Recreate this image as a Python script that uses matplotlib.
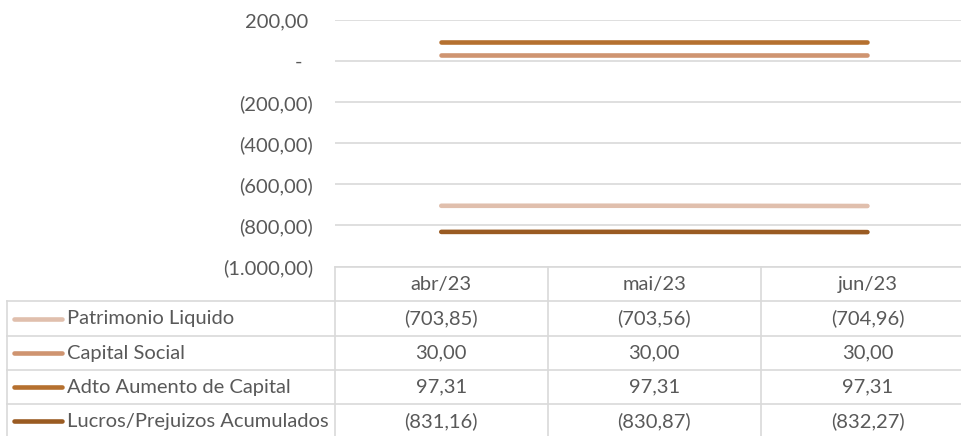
import matplotlib
matplotlib.use("Agg")
import matplotlib.pyplot as plt
from matplotlib.transforms import blended_transform_factory

# dados
meses = ["abr/23", "mai/23", "jun/23"]
series = ["Patrimonio Liquido", "Capital Social",
          "Adto Aumento de Capital", "Lucros/Prejuizos Acumulados"]
patrimonio_liquido = [-703.85, -703.56, -704.96]
capital_social = [30.00, 30.00, 30.00]
adto_aumento = [97.31, 97.31, 97.31]
lucros_prejuizos = [-831.16, -830.87, -832.27]
cores = ["#E0BFAD", "#CF9470", "#B5702F", "#9A5B22"]
yticks = [200, 0, -200, -400, -600, -800, -1000]

valores = [patrimonio_liquido, capital_social, adto_aumento, lucros_prejuizos]

TXT = "#595959"
GRID = "#D9D9D9"
FONT = "Lato"
FS = 14.5


def fmt(v):
    """Formato contabil pt-BR"""
    if abs(v) < 1e-9:
        return "-"
    s = f"{abs(v):,.2f}".replace(",", "X").replace(".", ",").replace("X", ".")
    return f"({s})" if v < 0 else s


W, H = 962, 436
fig = plt.figure(figsize=(W / 100, H / 100), dpi=100)

# eixo do grafico
x0, x1 = 334.7, 974.0
ytop, ybot = 20.5, 266.5
ax = fig.add_axes([x0 / W, 1 - ybot / H, (x1 - x0) / W, (ybot - ytop) / H])
ax.set_xlim(-0.5, 2.5)
ax.set_ylim(-1000, 200)
for sp in ax.spines.values():
    sp.set_visible(False)
ax.set_yticks(yticks)
ax.set_yticklabels([fmt(t) + ("" if t < 0 else (" " if t > 0 else "  "))
                    for t in yticks], fontfamily=FONT, fontsize=FS, color=TXT)
ax.tick_params(axis="y", length=0, pad=15.5)
ax.set_xticks([])
ax.grid(axis="y", color=GRID, linewidth=1.2)
ax.set_axisbelow(True)

xs = list(range(len(meses)))
for vals, cor in zip(valores, cores):
    ax.plot(xs, vals, color=cor, linewidth=3.3, solid_capstyle="round", clip_on=False)

# tabela de dados
tax = fig.add_axes([0, 0, 1, 1])
tax.set_xlim(0, W)
tax.set_ylim(H, 0)
tax.axis("off")
bt = blended_transform_factory(ax.transData, tax.transData)

hdr_top, hdr_bot = 267, 301
rows = [301, 336, 370, 404, 438]
left = 7

# linhas horizontais
tax.plot([x0, W], [hdr_top, hdr_top], color=GRID, linewidth=1.2)
for y in rows:
    tax.plot([left, W], [y, y], color=GRID, linewidth=1.2)
# linhas verticais
tax.plot([left, left], [rows[0], rows[-1]], color=GRID, linewidth=1.2)
for xc in [-0.5, 0.5, 1.5]:
    tax.plot([xc, xc], [hdr_top, rows[-1]], color=GRID, linewidth=1.2, transform=bt)

for i, m in enumerate(meses):
    tax.text(i, (hdr_top + hdr_bot) / 2, m, transform=bt, ha="center", va="center",
             fontfamily=FONT, fontsize=FS, color=TXT)

for r, (nome, vals, cor) in enumerate(zip(series, valores, cores)):
    yc = (rows[r] + rows[r + 1]) / 2
    tax.plot([14, 62], [yc, yc], color=cor, linewidth=3.3, solid_capstyle="round")
    tax.text(67, yc, nome, ha="left", va="center", fontfamily=FONT, fontsize=FS, color=TXT)
    for i, v in enumerate(vals):
        tax.text(i, yc, fmt(v), transform=bt, ha="center", va="center",
                 fontfamily=FONT, fontsize=FS, color=TXT)

fig.savefig("out.png", dpi=100)
